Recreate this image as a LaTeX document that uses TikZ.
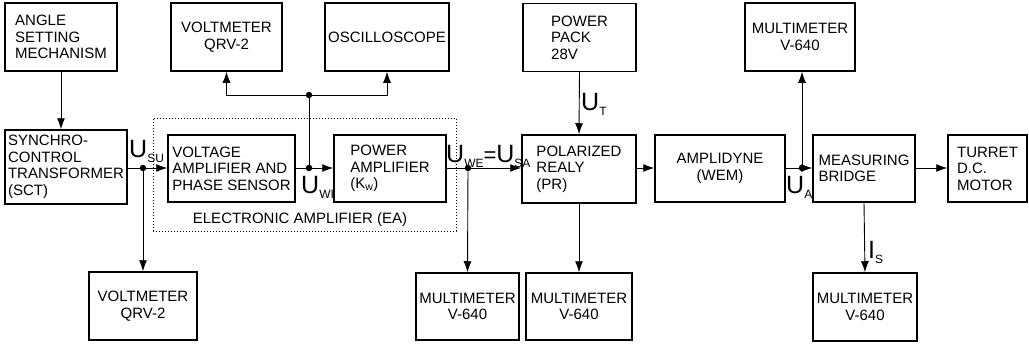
\documentclass[tikz,border=0pt]{standalone}
\usepackage{fontspec}
\setmainfont{Liberation Sans}
\usetikzlibrary{arrows.meta,positioning,calc}
\newcommand{\sig}[2]{{\fontsize{25}{25}\selectfont #1}\raisebox{-5pt}{\fontsize{12}{12}\selectfont #2}}
\begin{document}
\begin{tikzpicture}[
  x=1pt, y=-1pt,
  font=\fontsize{15}{16.5}\selectfont,
  box/.style={draw, line width=1.5pt, align=center, inner xsep=2pt, minimum height=68pt},
  lbox/.style={box, align=left},
  eabox/.style={draw, dotted, line width=1pt, minimum width=303pt, minimum height=113pt},
  dot/.style={circle, fill, inner sep=0pt, minimum size=6.5pt},
  sigl/.style={anchor=base west, inner sep=0pt},
  flow/.style={-{Latex[length=11pt,width=8pt]}, line width=0.9pt},
  link/.style={line width=0.9pt},
]
  \useasboundingbox (0,0) rectangle (1029,343);
  \node[eabox] (ea) at (304.5,174.5) {};
  \node (eatext) at (300,220) {ELECTRONIC AMPLIFIER (EA)};

  \node[lbox, minimum width=112pt] (angle) at (61,37) {ANGLE\\SETTING\\MECHANISM};
  \node[box, minimum width=111pt] (vmtop) at (226.5,37) {VOLTMETER\\QRV-2};
  \node[box, minimum width=124pt] (osc) at (387,37) {OSCILLOSCOPE};
  \node[lbox, minimum width=113pt] (pwrpack) at (579.5,37.5) {POWER\\PACK\\28V};
  \node[box, minimum width=110pt] (mmtop) at (800,37) {MULTIMETER\\V-640};

  \node[lbox, minimum width=122pt, minimum height=74pt] (sct) at (66,167) {SYNCHRO-\\CONTROL\\TRANSFORMER\\(SCT)};
  \node[lbox, minimum width=127pt, minimum height=67pt] (va) at (231.5,168.5) {VOLTAGE\\AMPLIFIER AND\\PHASE SENSOR};
  \node[lbox, minimum width=112pt, minimum height=67pt] (pa) at (390,168.5) {POWER\\AMPLIFIER\\(K\textsubscript{w})};
  \node[lbox, minimum width=114pt] (pr) at (579,169) {POLARIZED\\REALY\\(PR)};
  \node[box, minimum width=130pt, minimum height=67pt] (amp) at (720,168.5) {AMPLIDYNE\\(WEM)};
  \node[lbox, minimum width=102pt, minimum height=67pt] (bridge) at (864,168.5) {MEASURING\\BRIDGE};
  \node[lbox, minimum width=79pt, minimum height=67pt] (turret) at (987.5,168.5) {TURRET\\D.C.\\MOTOR};

  \node[box, minimum width=108pt] (vmbot) at (143,306) {VOLTMETER\\QRV-2};
  \node[box, minimum width=103pt, minimum height=67pt] (mm1) at (467.5,306.5) {MULTIMETER\\V-640};
  \node[box, minimum width=106pt, minimum height=67pt] (mm2) at (579,306.5) {MULTIMETER\\V-640};
  \node[box, minimum width=104pt] (mm3) at (865,307) {MULTIMETER\\V-640};

  \node[dot] (j1) at (143,168) {};
  \node[dot] (j2) at (309,168) {};
  \node[dot] (j3) at (309,95) {};
  \node[dot] (j4) at (468,168) {};
  \node[dot] (j5) at (802,168) {};

  \node[sigl] (usu) at (129,157) {\sig{U}{SU}};
  \node[sigl] (uwi) at (301,193) {\sig{U}{WI}};
  \node[sigl] (uwe) at (446,162) {\sig{U}{WE}\raisebox{0pt}{\fontsize{22}{22}\selectfont=}\sig{U}{SA}};
  \node[sigl] (ut) at (581,110) {\sig{U}{T}};
  \node[sigl] (ua) at (786,193) {\sig{U}{A}};
  \node[sigl] (is) at (868,258) {\sig{I}{S}};

  \draw[flow] (angle.south) -- (angle.south |- sct.north);
  \draw[flow] (sct.east |- j1) -- (va.west |- j1);
  \draw[flow] (j1) -- (vmbot.north);
  \draw[flow] (va.east |- j2) -- (pa.west |- j2);
  \draw[link] (j2) -- (j3);
  \draw[flow] (j3) -| (vmtop.south);
  \draw[flow] (j3) -| (osc.south);
  \draw[flow] (pa.east |- j4) -- (pr.west |- j4);
  \draw[flow] (j4) -- (mm1.north);
  \draw[flow] (pwrpack.south) -- (pr.north);
  \draw[flow] (pr.south) -- (mm2.north);
  \draw[flow] (pr.east |- j4) -- (amp.west |- j4);
  \draw[flow] (amp.east |- j5) -- (bridge.west |- j5);
  \draw[flow] (j5) -- (j5 |- mmtop.south);
  \draw[flow] (bridge.east |- j5) -- (turret.west |- j5);
  \draw[flow] (bridge.south) -- (mm3.north);
\end{tikzpicture}
\end{document}
